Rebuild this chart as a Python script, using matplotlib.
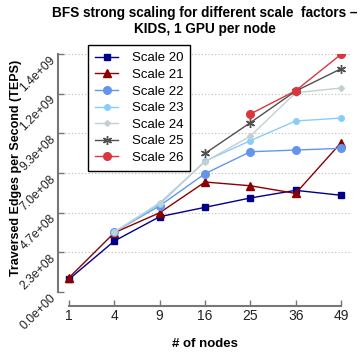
import matplotlib
matplotlib.use("Agg")
import matplotlib.pyplot as plt
import numpy as np

plt.rcParams["font.family"] = ["Liberation Sans", "DejaVu Sans"]

# x categories (number of nodes)
nodes = [1, 4, 9, 16, 25, 36, 49]

# TEPS values per scale factor (None = not measured)
scale20 = [7.5e7, 3.0e8, 4.43e8, 4.98e8, 5.53e8, 5.98e8, 5.69e8]
scale21 = [8.4e7, 3.49e8, 4.66e8, 6.47e8, 6.25e8, 5.8e8, 8.78e8]
scale22 = [None, 3.53e8, 5.07e8, 6.96e8, 8.25e8, 8.35e8, 8.45e8]
scale23 = [None, 3.53e8, 5.16e8, 7.7e8, 8.9e8, 1.006e9, 1.023e9]
scale24 = [None, 3.53e8, 5.25e8, 7.66e8, 9.17e8, 1.172e9, 1.2e9]
scale25 = [None, None, None, 8.15e8, 9.96e8, 1.182e9, 1.313e9]
scale26 = [None, None, None, None, 1.047e9, 1.184e9, 1.398e9]

labels = ["Scale 20", "Scale 21", "Scale 22", "Scale 23", "Scale 24", "Scale 25", "Scale 26"]
series = [scale20, scale21, scale22, scale23, scale24, scale25, scale26]

styles = [
    dict(color="#00008b", marker="s", markersize=5),
    dict(color="#8b0000", marker="^", markersize=5.5),
    dict(color="#6495ed", marker="o", markersize=5.5),
    dict(color="#87cefa", marker="o", markersize=4),
    dict(color="#c3cfd1", marker="D", markersize=3),
    dict(color="#505050", marker=(6, 2, 0), markersize=6.5, markeredgewidth=1),
    dict(color="#d9363e", marker="o", markersize=5.5),
]

fig = plt.figure(figsize=(3.6, 3.56), dpi=100)
ax = fig.add_axes([58 / 360, 64 / 356, 294 / 360, 238 / 356])

x = np.arange(len(nodes))
for vals, lab, st in zip(series, labels, styles):
    y = np.array([np.nan if v is None else v for v in vals])
    ax.plot(x, y, label=lab, linewidth=1, **st)

ymax = 1.4e9
yticks = np.linspace(0, ymax, 7)
ax.set_ylim(0, ymax)
ax.set_xlim(-0.243, 6.243)
ax.set_yticks(yticks)
# labels hang below their tick, rotated 45 degrees
ax.set_yticklabels(["%.1e" % v for v in yticks], rotation=45, fontsize=8.7,
                   ha="right", va="top")
ax.set_xticks(x)
ax.set_xticklabels([str(n) for n in nodes], fontsize=10)

ax.yaxis.grid(True, linestyle=(0, (1, 2)), color="#bbbbbb", linewidth=0.8)
ax.set_axisbelow(True)

for s in ["top", "right"]:
    ax.spines[s].set_visible(False)
ax.spines["bottom"].set_position(("outward", 10))
ax.spines["bottom"].set_bounds(0, 6)
ax.spines["left"].set_bounds(0, ymax)
for s in ["left", "bottom"]:
    ax.spines[s].set_color("#777777")
    ax.spines[s].set_linewidth(1.5)
ax.tick_params(direction="in", length=4, color="#777777", width=1, colors="#222222")
ax.tick_params(axis="x", pad=2)
ax.tick_params(axis="y", pad=0)

ax.set_xlabel("# of nodes", fontsize=9.5, fontweight="bold")
ax.xaxis.set_label_coords(0.5, -0.192)
ax.set_ylabel("Traversed Edges per Second (TEPS)", fontsize=9, fontweight="bold")
ax.yaxis.set_label_coords(-0.122, 0.523)
ax.set_title("BFS strong scaling for different scale  factors \u2013\nKIDS, 1 GPU per node",
             fontsize=9.8, fontweight="bold", pad=15)

leg = ax.legend(loc="upper left", bbox_to_anchor=(0.102, 1.038), fontsize=9.5,
                fancybox=False, framealpha=1, edgecolor="black", labelspacing=0.33,
                handlelength=1.75, handletextpad=1.0, borderpad=0.55, borderaxespad=0)
leg.get_frame().set_linewidth(1)

fig.savefig("out.png", dpi=100)
